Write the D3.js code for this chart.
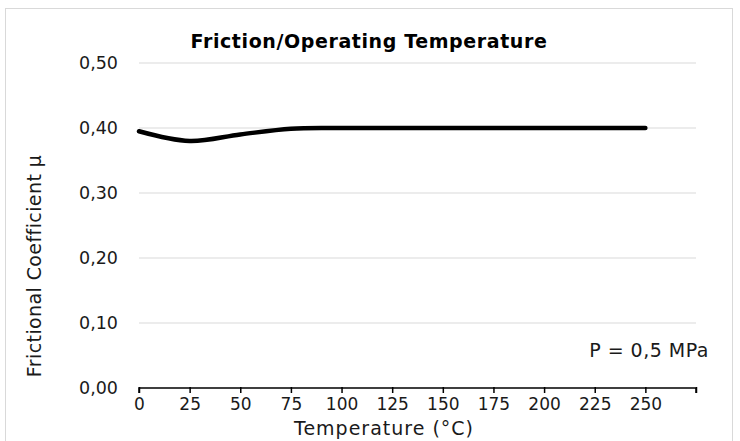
<!DOCTYPE html>
<html>
<head>
<meta charset="utf-8">
<script src="https://cdn.jsdelivr.net/npm/d3@7"></script>
<style>
  body { margin: 0; background: #fff; }
  text { font-family: Verdana, "DejaVu Sans", sans-serif; fill: #1a1a1a; }
</style>
</head>
<body>
<div id="chart"></div>
<script>
// Data
var temperature = [0, 25, 50, 75, 100, 125, 150, 175, 200, 225, 250];
var friction = [0.395, 0.38, 0.39, 0.399, 0.40, 0.40, 0.40, 0.40, 0.40, 0.40, 0.40];
var xTicks = [0, 25, 50, 75, 100, 125, 150, 175, 200, 225, 250, 275];
var yTicks = [0, 0.1, 0.2, 0.3, 0.4, 0.5];

var w = 740, h = 441,
    margin = {top: 63, right: 44, bottom: 53, left: 139},
    width = w - margin.left - margin.right,
    height = h - margin.top - margin.bottom;

var svg = d3.select("#chart")
    .append("svg")
    .attr("width", w)
    .attr("height", h);

// outer border
svg.append("rect")
    .attr("x", 5.5)
    .attr("y", 8.5)
    .attr("width", 727)
    .attr("height", 440)
    .attr("fill", "none")
    .attr("stroke", "#d9d9d9");

var g = svg.append("g")
    .attr("transform", "translate(" + margin.left + "," + margin.top + ")");

var x = d3.scaleLinear().domain([0, 275]).range([0, width]);
var y = d3.scaleLinear().domain([0, 0.5]).range([height, 0]);

// gridlines
g.selectAll(".grid")
    .data(yTicks.filter(d => d > 0))
    .enter().append("line")
    .attr("class", "grid")
    .attr("x1", 0)
    .attr("x2", width)
    .attr("y1", d => y(d))
    .attr("y2", d => y(d))
    .attr("stroke", "#d9d9d9")
    .attr("stroke-width", 1);

// y tick labels
g.selectAll(".ylab")
    .data(yTicks)
    .enter().append("text")
    .attr("class", "ylab")
    .attr("x", -21)
    .attr("y", d => y(d))
    .attr("dy", "0.35em")
    .attr("text-anchor", "end")
    .style("font-size", "17.5px")
    .text(d => d3.format(".2f")(d).replace(".", ","));

// x axis
var xAxis = d3.axisBottom(x)
    .tickValues(xTicks)
    .tickSize(6)
    .tickFormat(d => d <= 250 ? d : "");
var ax = g.append("g")
    .attr("transform", "translate(0," + height + ")")
    .call(xAxis);
ax.select(".domain").attr("stroke", "#000").attr("stroke-width", 1.5)
    .attr("d", "M0,5V0H" + width + "V5");
ax.selectAll(".tick line").attr("stroke", "#000").attr("stroke-width", 1.5)
    .attr("y1", -1).attr("y2", 5);
ax.selectAll(".tick text")
    .attr("y", 10)
    .style("font-size", "17px")
    .style("font-family", "Verdana, 'DejaVu Sans', sans-serif")
    .style("fill", "#1a1a1a");

// line
var line = d3.line()
    .x((d, i) => x(temperature[i]))
    .y(d => y(d))
    .curve(d3.curveCatmullRom.alpha(0.5));

g.append("path")
    .datum(friction)
    .attr("d", line)
    .attr("fill", "none")
    .attr("stroke", "#000")
    .attr("stroke-width", 4.5)
    .attr("stroke-linecap", "round");

// title
svg.append("text")
    .attr("x", 369)
    .attr("y", 48)
    .attr("text-anchor", "middle")
    .style("font-size", "19px")
    .style("font-weight", "bold")
    .style("letter-spacing", "0.6px")
    .style("fill", "#000")
    .text("Friction/Operating Temperature");

// axis titles
svg.append("text")
    .attr("transform", "translate(41,266) rotate(-90)")
    .attr("text-anchor", "middle")
    .style("font-size", "19px")
    .style("letter-spacing", "0.4px")
    .text("Frictional Coefficient μ");

svg.append("text")
    .attr("x", 384)
    .attr("y", 435)
    .attr("text-anchor", "middle")
    .style("font-size", "19px")
    .style("letter-spacing", "1px")
    .text("Temperature (°C)");

// annotation
svg.append("text")
    .attr("x", 709)
    .attr("y", 357)
    .attr("text-anchor", "end")
    .style("font-size", "19px")
    .style("letter-spacing", "0.5px")
    .text("P = 0,5 MPa");
</script>
</body>
</html>
